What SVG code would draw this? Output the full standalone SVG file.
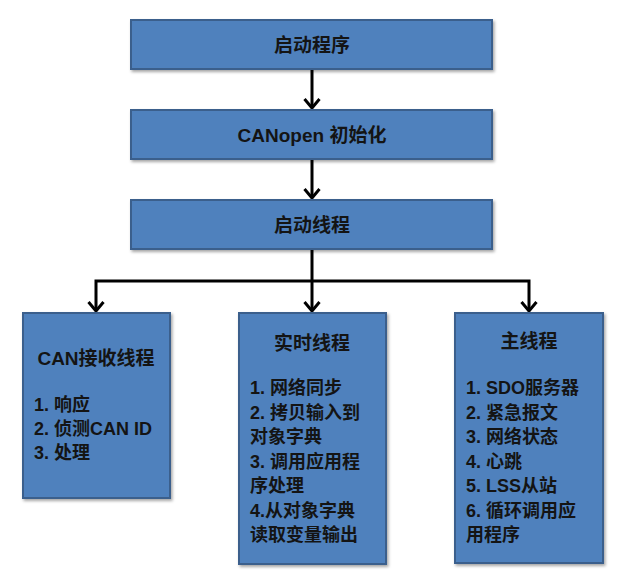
<svg xmlns="http://www.w3.org/2000/svg" width="622" height="582" viewBox="0 0 622 582">
<defs>
<filter id="sh" x="-10%" y="-10%" width="130%" height="130%">
<feDropShadow dx="1.5" dy="2" stdDeviation="1.5" flood-color="#000" flood-opacity="0.35"/>
</filter>
<marker id="ah" viewBox="-12 -10 14 20" refX="0" refY="0" markerUnits="userSpaceOnUse" markerWidth="14" markerHeight="20" orient="auto">
<path d="M-9,-7.5 L0,0 L-9,7.5" fill="none" stroke="#000" stroke-width="3"/>
</marker>
</defs>
<style>
.box{fill:#4F81BD;stroke:#3A5F8C;stroke-width:2;filter:url(#sh)}
.t{font-family:"Liberation Sans","Noto Sans CJK SC",sans-serif;font-weight:bold;fill:#141414}
.h{font-size:19px;text-anchor:middle}
.l{font-size:18px}
.c{fill:none;stroke:#000;stroke-width:3}
</style>
<g id="connectors">
<path class="c" d="M312,69 V108" marker-end="url(#ah)"/>
<path class="c" d="M312,159 V198" marker-end="url(#ah)"/>
<path class="c" d="M312,249 V311" marker-end="url(#ah)"/>
<path class="c" d="M312,281 H96 V311" marker-end="url(#ah)"/>
<path class="c" d="M312,281 H529 V311" marker-end="url(#ah)"/>
</g>
<g id="n1">
<rect class="box" x="131" y="20" width="361" height="49"/>
<text class="t h" x="312" y="52">启动程序</text>
</g>
<g id="n2">
<rect class="box" x="131" y="110" width="361" height="49"/>
<text class="t h" x="312" y="142">CANopen 初始化</text>
</g>
<g id="n3">
<rect class="box" x="131" y="200" width="361" height="49"/>
<text class="t h" x="312" y="232">启动线程</text>
</g>
<g id="n4">
<rect class="box" x="23" y="313" width="147" height="185"/>
<text class="t h" x="96" y="365">CAN接收线程</text>
<text class="t l" x="34" y="411">1. 响应</text>
<text class="t l" x="34" y="435">2. 侦测CAN ID</text>
<text class="t l" x="34" y="459">3. 处理</text>
</g>
<g id="n5">
<rect class="box" x="239" y="313" width="147" height="251"/>
<text class="t h" x="312" y="350">实时线程</text>
<text class="t l" x="250" y="394">1. 网络同步</text>
<text class="t l" x="250" y="418.5">2. 拷贝输入到</text>
<text class="t l" x="250" y="443">对象字典</text>
<text class="t l" x="250" y="467.5">3. 调用应用程</text>
<text class="t l" x="250" y="492">序处理</text>
<text class="t l" x="250" y="516.5">4.从对象字典</text>
<text class="t l" x="250" y="541">读取变量输出</text>
</g>
<g id="n6">
<rect class="box" x="455" y="313" width="148" height="250"/>
<text class="t h" x="529" y="348">主线程</text>
<text class="t l" x="466" y="394">1. SDO服务器</text>
<text class="t l" x="466" y="418.5">2. 紧急报文</text>
<text class="t l" x="466" y="443">3. 网络状态</text>
<text class="t l" x="466" y="467.5">4. 心跳</text>
<text class="t l" x="466" y="492">5. LSS从站</text>
<text class="t l" x="466" y="516.5">6. 循环调用应</text>
<text class="t l" x="466" y="541">用程序</text>
</g>
</svg>
